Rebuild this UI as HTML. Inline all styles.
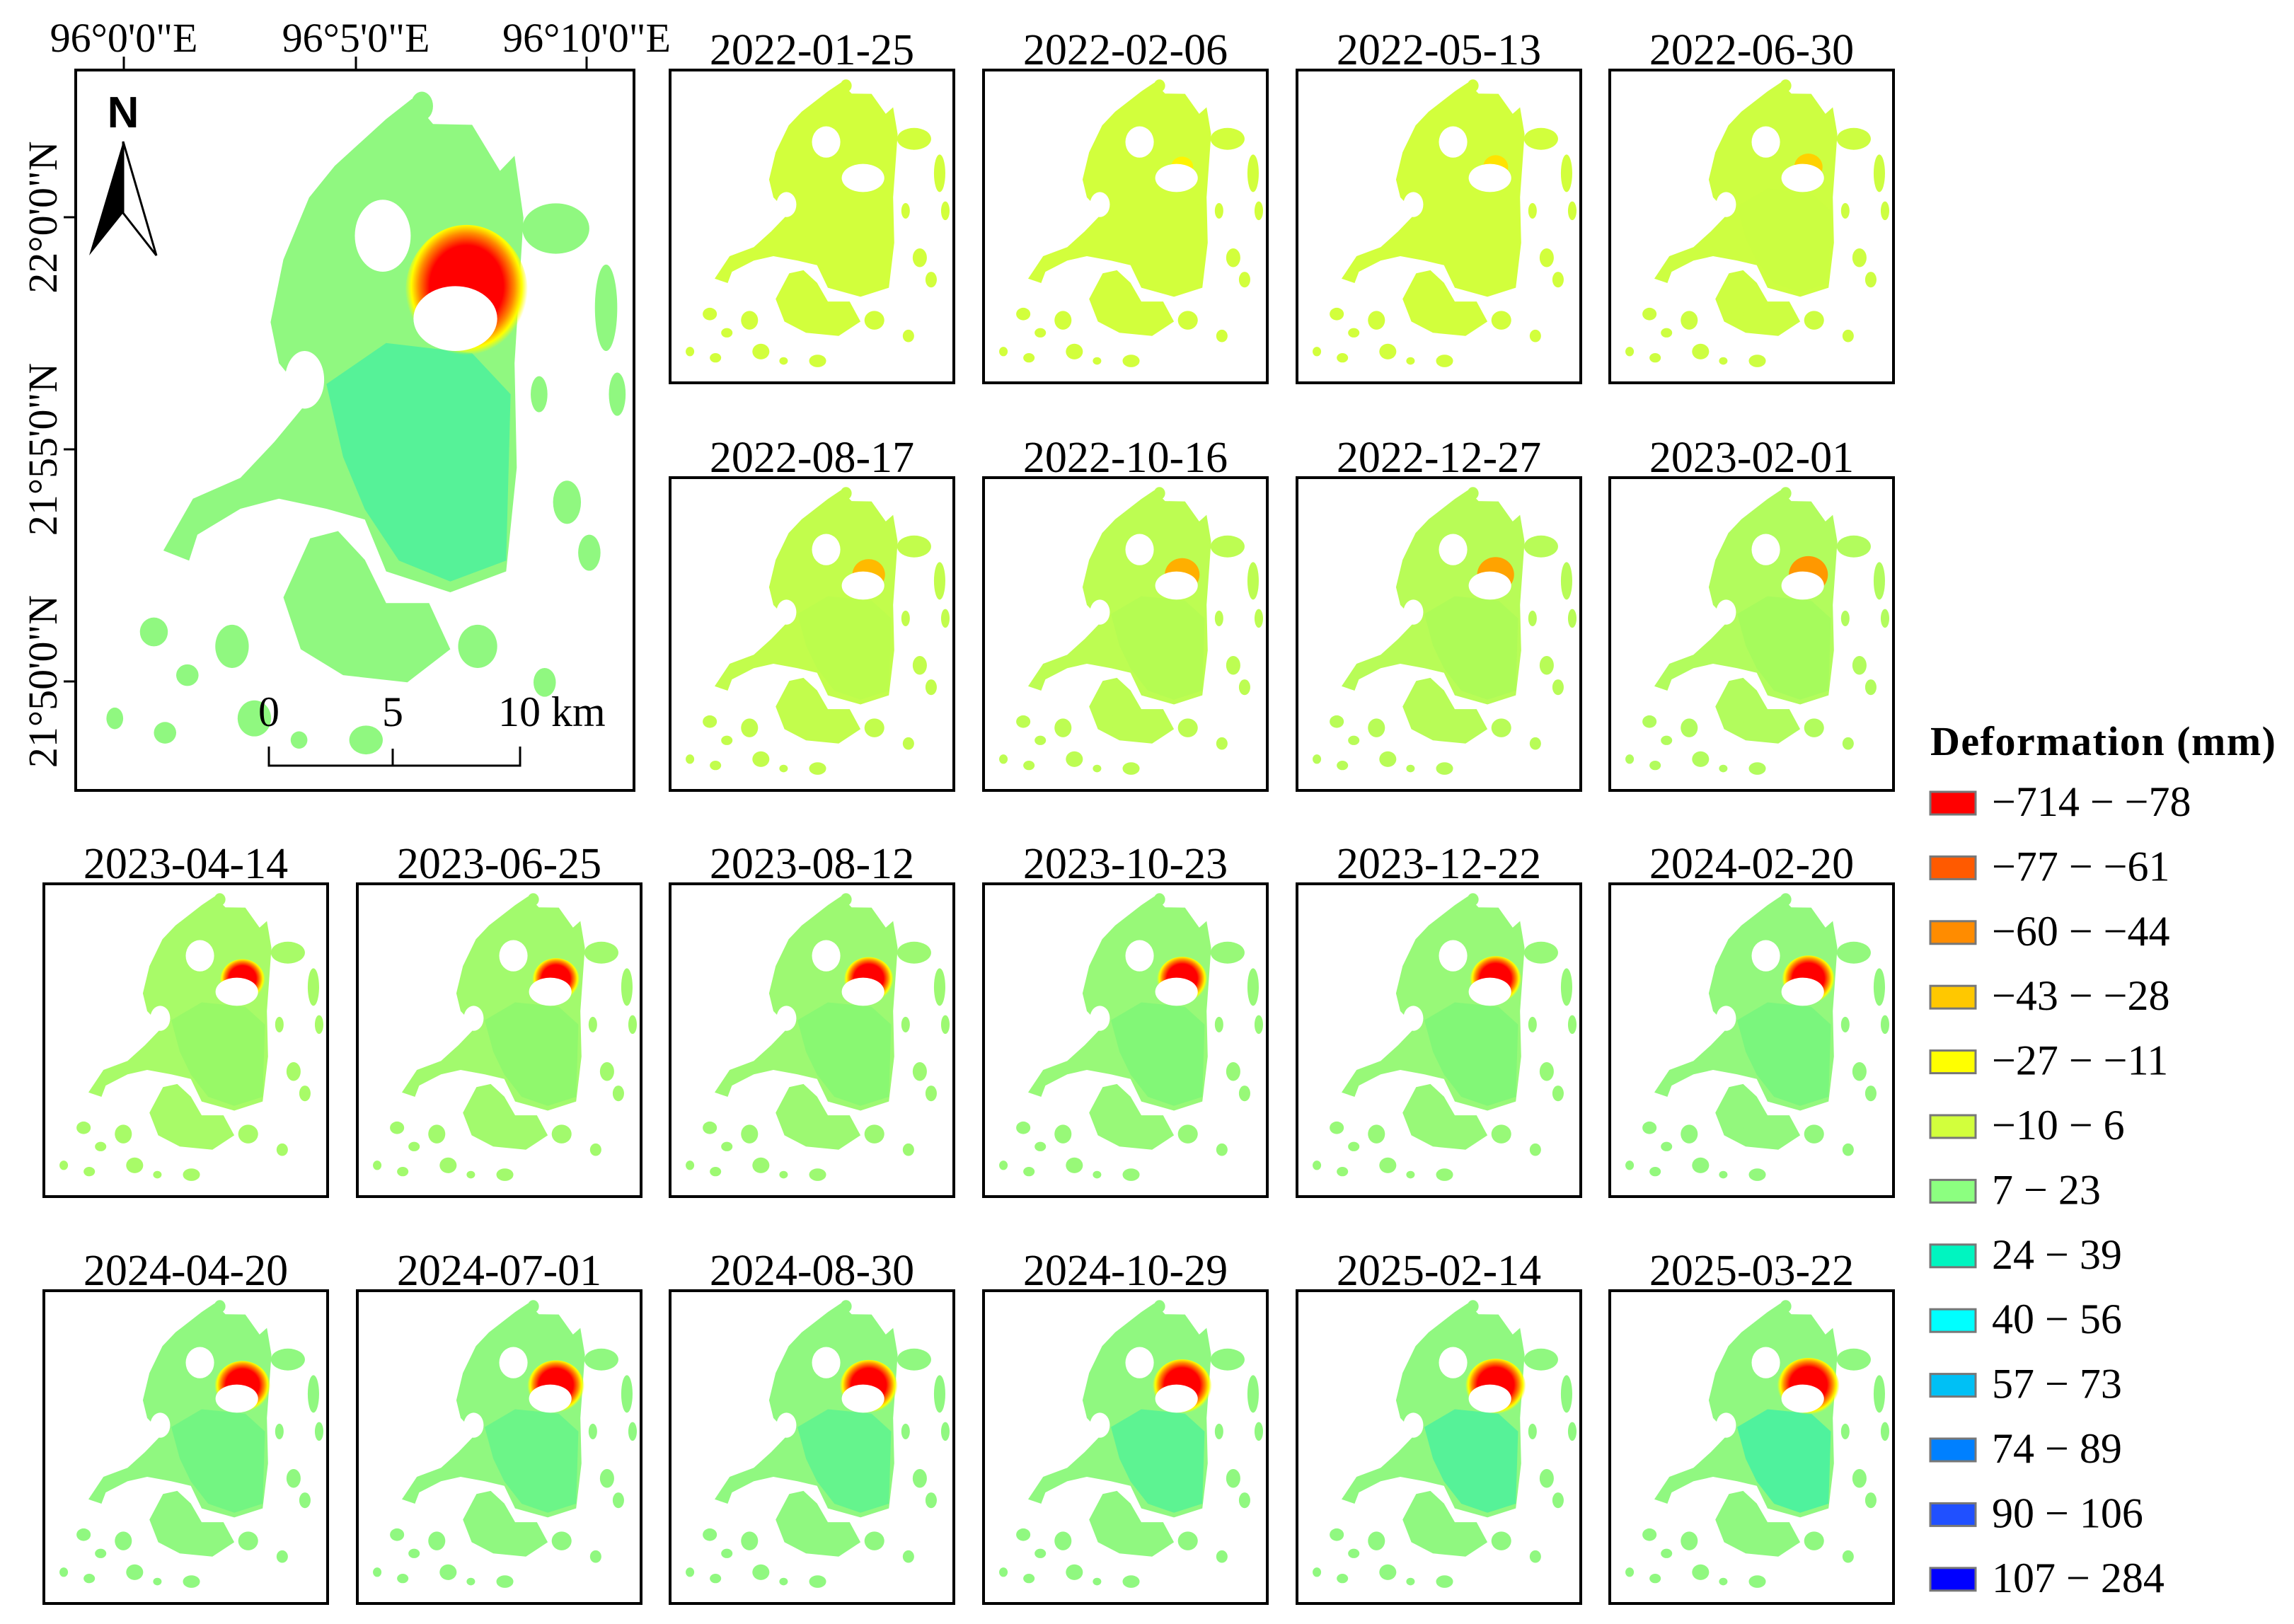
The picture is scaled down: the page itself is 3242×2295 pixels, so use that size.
<!DOCTYPE html>
<html><head><meta charset="utf-8"><style>
html,body{margin:0;padding:0;background:#fff}
svg{display:block}
text{font-family:"Liberation Serif",serif;fill:#000}
</style></head><body>
<svg id="fig" width="3242" height="2295" viewBox="0 0 3242 2295" xmlns="http://www.w3.org/2000/svg">
<defs>
<radialGradient id="ringg" cx="0.5" cy="0.45" r="0.5">
<stop offset="0.6" stop-color="#ff0000"/><stop offset="0.78" stop-color="#ff8c00"/><stop offset="0.9" stop-color="#ffff00"/><stop offset="1" stop-color="#ffff00" stop-opacity="0"/>
</radialGradient>
</defs>
<g id="maps"></g>
<g id="main-annot">
<text x="175" y="73" font-size="58" text-anchor="middle">96°0'0"E</text>
<text x="503" y="73" font-size="58" text-anchor="middle">96°5'0"E</text>
<text x="829" y="73" font-size="58" text-anchor="middle">96°10'0"E</text>
<line x1="175" y1="80" x2="175" y2="99" stroke="#000" stroke-width="3"/>
<line x1="503" y1="80" x2="503" y2="99" stroke="#000" stroke-width="3"/>
<line x1="829" y1="80" x2="829" y2="99" stroke="#000" stroke-width="3"/>
<line x1="90" y1="307" x2="107" y2="307" stroke="#000" stroke-width="3"/>
<line x1="90" y1="635" x2="107" y2="635" stroke="#000" stroke-width="3"/>
<line x1="90" y1="963" x2="107" y2="963" stroke="#000" stroke-width="3"/>
<text transform="translate(80,307) rotate(-90)" font-size="58" text-anchor="middle">22°0'0"N</text>
<text transform="translate(80,635) rotate(-90)" font-size="58" text-anchor="middle">21°55'0"N</text>
<text transform="translate(80,963) rotate(-90)" font-size="58" text-anchor="middle">21°50'0"N</text>
<g>
<text x="174" y="180" font-size="62" font-weight="bold" text-anchor="middle" style="font-family:'Liberation Sans',sans-serif">N</text>
<polygon points="174,200 126,361 174,301" fill="#000"/>
<polygon points="174,200 221,361 174,301" fill="#fff" stroke="#000" stroke-width="3"/>
</g>
<g>
<polyline points="380,1055 380,1082 735,1082 735,1055" fill="none" stroke="#000" stroke-width="3"/>
<line x1="555" y1="1058" x2="555" y2="1082" stroke="#000" stroke-width="3"/>
<text x="380" y="1026" font-size="60" text-anchor="middle">0</text>
<text x="555" y="1026" font-size="60" text-anchor="middle">5</text>
<text x="704" y="1026" font-size="60">10 km</text>
</g>
</g>
<g id="legend">
<text x="2728" y="1067" font-size="58" font-weight="bold" letter-spacing="1.5">Deformation (mm)</text>
</g>
</svg>
<script>
// ---- data ----
const dates = ["2022-01-25","2022-02-06","2022-05-13","2022-06-30","2022-08-17","2022-10-16","2022-12-27","2023-02-01","2023-04-14","2023-06-25","2023-08-12","2023-10-23","2023-12-22","2024-02-20","2024-04-20","2024-07-01","2024-08-30","2024-10-29","2025-02-14","2025-03-22"];
// subsidence development stage per date (0 none .. 1 full)
const stage = [0,0.05,0.12,0.2,0.3,0.35,0.4,0.45,0.6,0.65,0.7,0.72,0.75,0.78,0.85,0.88,0.9,0.93,0.96,1];
// uplift (greenness) level per date
const uplift = [0,0,0,0.05,0.15,0.2,0.25,0.3,0.4,0.45,0.5,0.55,0.55,0.6,0.65,0.7,0.75,0.8,0.85,0.9];
const legendLabels = ["\u2212714 \u2212 \u221278","\u221277 \u2212 \u221261","\u221260 \u2212 \u221244","\u221243 \u2212 \u221228","\u221227 \u2212 \u221211","\u221210 \u2212 6","7 \u2212 23","24 \u2212 39","40 \u2212 56","57 \u2212 73","74 \u2212 89","90 \u2212 106","107 \u2212 284"];
const legendColors = ["#ff0000","#ff5a00","#ff8c00","#ffc800","#ffff00","#d2ff3c","#8cff80","#00f5c0","#00ffff","#00c0f5","#0080ff","#2050ff","#0000ff"];

const NS="http://www.w3.org/2000/svg";
function mk(tag,attrs,parent){const e=document.createElementNS(NS,tag);for(const k in attrs)e.setAttribute(k,attrs[k]);if(parent)parent.appendChild(e);return e;}
function mix(a,b,t){const pa=[1,3,5].map(i=>parseInt(a.substr(i,2),16)),pb=[1,3,5].map(i=>parseInt(b.substr(i,2),16));return "rgb("+pa.map((v,i)=>Math.round(v+(pb[i]-v)*t)).join(",")+")";}

const land=[[.464,.133],[.556,.068],[.602,.040],[.640,.075],[.710,.076],[.760,.140],[.786,.119],[.802,.205],[.786,.407],[.790,.552],[.771,.696],[.671,.725],[.556,.696],[.518,.624],[.449,.609],[.364,.595],[.295,.609],[.218,.645],[.203,.681],[.157,.667],[.210,.595],[.295,.566],[.356,.516],[.418,.458],[.364,.407],[.349,.350],[.372,.263],[.418,.177]];
const south=[[.372,.732],[.420,.650],[.470,.640],[.518,.680],[.556,.740],[.633,.740],[.671,.804],[.594,.850],[.479,.840],[.403,.804]];
const inner=[[.449,.436],[.556,.379],[.710,.393],[.779,.450],[.771,.681],[.671,.710],[.579,.681],[.518,.610],[.479,.537]];
const patches=[[.86,.22,.06,.035],[.62,.05,.02,.02],[.95,.33,.02,.06],[.97,.45,.015,.03],[.14,.78,.025,.02],[.2,.84,.02,.015],[.28,.8,.03,.03],[.32,.9,.03,.025],[.16,.92,.02,.015],[.72,.8,.035,.03],[.84,.85,.02,.02],[.88,.6,.025,.03],[.92,.67,.02,.025],[.83,.45,.015,.025],[.45,.78,.02,.02],[.52,.93,.03,.02],[.07,.9,.015,.015],[.4,.93,.015,.012]];

function drawMap(g,x,y,w,h,s,u,name){
  mk("rect",{x:x,y:y,width:w,height:h,fill:"#fff"},g);
  const P=pts=>pts.map(p=>(x+p[0]*w).toFixed(1)+","+(y+p[1]*h).toFixed(1)).join(" ");
  const landCol=mix("#d2ff3c","#90f880",Math.min(1,u*1.6));
  const innerCol=mix("#d2ff3c","#40f0a8",u);
  mk("polygon",{points:P(land),fill:landCol},g);
  mk("polygon",{points:P(south),fill:landCol},g);
  patches.forEach(p=>mk("ellipse",{cx:x+p[0]*w,cy:y+p[1]*h,rx:p[2]*w,ry:p[3]*h,fill:landCol},g));
  mk("polygon",{points:P(inner),fill:innerCol},g);
  mk("ellipse",{cx:x+.55*w,cy:y+.23*h,rx:.05*w,ry:.05*h,fill:"#fff"},g);
  mk("ellipse",{cx:x+.41*w,cy:y+.43*h,rx:.035*w,ry:.04*h,fill:"#fff"},g);
  if(s>0){
    const c=mk("ellipse",{cx:x+.70*w,cy:y+.31*h,rx:(.035+.075*s)*w,ry:(.03+.065*s)*h,fill:s>0.5?"url(#ringg)":mix("#ffff00","#ff8c00",s*2)},g);
    
    
  }
  mk("ellipse",{cx:x+.68*w,cy:y+.345*h,rx:.075*w,ry:.045*h,fill:"#fff"},g);
  mk("rect",{x:x,y:y,width:w,height:h,fill:"none",stroke:"#000","stroke-width":4},g);
}

const maps=document.getElementById("maps");
const mg=mk("g",{},maps);


drawMap(mg,107,99,789,1018,1,0.85,'overview-map');

const colLeft=[947,1390,1833,2275], extraLeft=[62,505], rowTop=[99,675,1249,1824], PW=401, PH=442;
const slots=[];
for(let r=0;r<4;r++){const cols=r<2?colLeft:extraLeft.concat(colLeft);cols.forEach(c=>slots.push([c,rowTop[r]]));}
dates.forEach((d,i)=>{
  const [x,y]=slots[i];
  const g=mk("g",{},maps);
  
  
  drawMap(g,x,y,PW,PH,stage[i],uplift[i],'panel-'+d);
  const t=mk("text",{x:x+PW/2,y:y-8,"font-size":62,"text-anchor":"middle"},g);
  t.textContent=d;
  
  
});

const lg=document.getElementById("legend");
legendLabels.forEach((l,i)=>{
  const yy=1119+i*91.4;
  const r=mk("rect",{x:2728,y:yy,width:64,height:32,fill:legendColors[i],stroke:"#777","stroke-width":3},lg);
  
  
  const t=mk("text",{x:2815,y:yy+34,"font-size":60},lg);
  t.textContent=l;
  
  
});
</script>
</body></html>
